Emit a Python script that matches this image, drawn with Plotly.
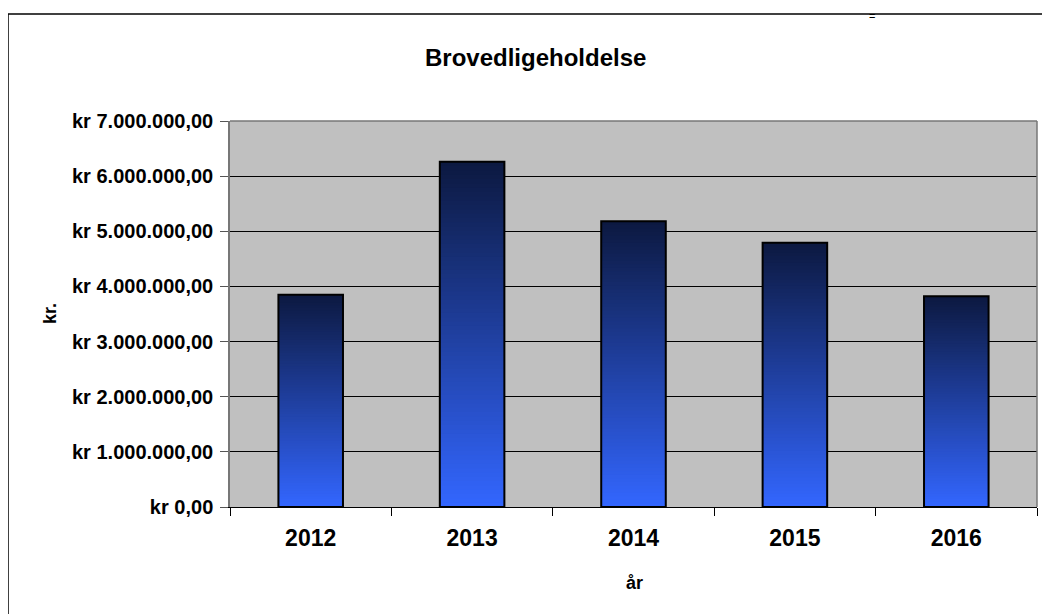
import plotly.graph_objects as go

years = ["2012", "2013", "2014", "2015", "2016"]
values = [3850000, 6260000, 5180000, 4790000, 3820000]
y_ticks = [0, 1000000, 2000000, 3000000, 4000000, 5000000, 6000000, 7000000]
y_labels = ["kr 0,00", "kr 1.000.000,00", "kr 2.000.000,00", "kr 3.000.000,00",
            "kr 4.000.000,00", "kr 5.000.000,00", "kr 6.000.000,00", "kr 7.000.000,00"]
title = "Brovedligeholdelse"
x_title = "år"
y_title = "kr."

# page has an 8px body margin; work in page coordinates and convert
OFF = 8
W, H = 1050 - OFF, 614 - OFF
PL, PR, PT, PB = 230, 1037, 121, 507  # plot area in page coordinates
L, R, T, B = PL - OFF, (W + OFF) - PR, PT - OFF, (H + OFF) - PB
FONT = "Liberation Sans, Arial, sans-serif"

top_rgb = (12, 25, 64)
bot_rgb = (51, 102, 255)
N = 80

fig = go.Figure()
# nested bars from tallest (dark top) to shortest (bright) -> smooth vertical gradient
for k in range(N):
    frac_top = 1 - k / N
    f = (N - k - 0.5) / N  # position of the visible band (0 bottom -> 1 top)
    c = tuple(round(bot_rgb[j] + (top_rgb[j] - bot_rgb[j]) * f) for j in range(3))
    fig.add_trace(go.Bar(
        x=years,
        y=[v * frac_top for v in values],
        marker=dict(color="rgb(%d,%d,%d)" % c, line=dict(width=0)),
        showlegend=False, hoverinfo="skip",
    ))
fig.add_trace(go.Bar(
    x=years, y=values,
    marker=dict(color="rgba(0,0,0,0)", line=dict(color="black", width=2)),
    showlegend=False,
))

pw = PR - PL
ph = PB - PT
def px(x):
    return (x - PL) / pw
def py(y):
    return (PB - y) / ph

fig.update_layout(
    width=W, height=H,
    margin=dict(l=L, r=R, t=T, b=B),
    paper_bgcolor="white",
    plot_bgcolor="#c0c0c0",
    barmode="overlay",
    bargap=0.6,
    font=dict(family=FONT, color="black"),
    shapes=[
        dict(type="line", xref="paper", yref="paper", x0=px(8), x1=px(1060), y0=py(14), y1=py(14),
             line=dict(color="black", width=1.5)),
        dict(type="line", xref="paper", yref="paper", x0=px(8), x1=px(8), y0=py(14), y1=py(620),
             line=dict(color="black", width=1.5)),
        dict(type="line", xref="paper", yref="paper", x0=0, x1=1, y0=1, y1=1,
             line=dict(color="#777777", width=1.5)),
        dict(type="line", xref="paper", yref="paper", x0=1, x1=1, y0=0, y1=1,
             line=dict(color="#777777", width=1.5)),
    ],
    annotations=[
        dict(text="<b>%s</b>" % title, xref="paper", yref="paper", x=px(535), y=py(57),
             xanchor="center", yanchor="middle", showarrow=False, font=dict(size=24, family=FONT)),
        dict(text="<b>%s</b>" % x_title, xref="paper", yref="paper", x=px(634), y=py(583),
             xanchor="center", yanchor="middle", showarrow=False, font=dict(size=18, family=FONT)),
        dict(text="<b>%s</b>" % y_title, xref="paper", yref="paper", x=px(50), y=py(314),
             xanchor="center", yanchor="middle", showarrow=False, textangle=-90,
             font=dict(size=18, family=FONT)),
        dict(text="=", xref="paper", yref="paper", x=px(872), y=py(8.5),
             xanchor="center", yanchor="top", showarrow=False, borderpad=0,
             font=dict(size=11, family=FONT)),
    ],
)
fig.update_xaxes(
    type="category",
    tickson="boundaries",
    ticks="outside", ticklen=8, tickcolor="black", tickwidth=1,
    showline=True, linecolor="black", linewidth=1, mirror=False,
    showgrid=False,
    tickfont=dict(size=23, family=FONT),
    tickprefix="<b>", ticksuffix="</b>",
    ticklabelstandoff=10,
)
fig.update_yaxes(
    range=[0, 7000000],
    tickvals=y_ticks, ticktext=["<b>%s</b>" % t for t in y_labels],
    ticks="outside", ticklen=8, tickcolor="#555555", tickwidth=1,
    showline=True, linecolor="#777777", linewidth=1.5, mirror=False,
    showgrid=True, gridcolor="black", gridwidth=1,
    zeroline=False,
    tickfont=dict(size=20, family=FONT),
    ticklabelstandoff=3,
)

fig.write_html("out.html")
